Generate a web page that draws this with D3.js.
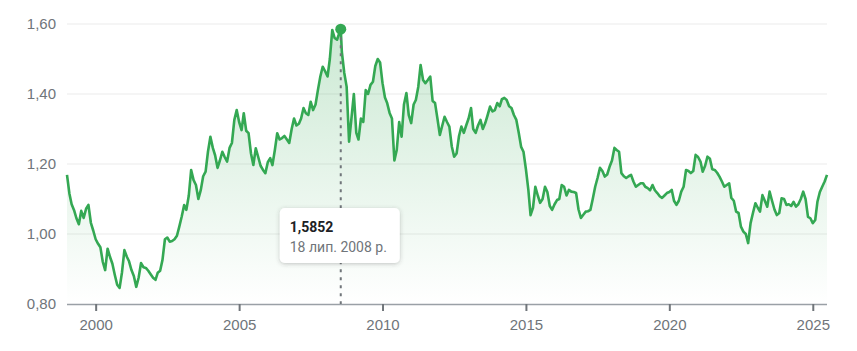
<!DOCTYPE html>
<html lang="uk">
<head>
<meta charset="utf-8">
<title>EUR / USD</title>
<script src="https://cdn.jsdelivr.net/npm/d3@7"></script>
<style>
  body { margin: 0; background: #fff; }
  svg { display: block; font-family: Roboto, "Noto Sans", Arial, sans-serif; }
  .axis text { fill: #70757a; font-size: 15px; }
</style>
</head>
<body>
<div id="chart"></div>
<script>
// monthly EUR/USD values, first of each month starting Jan 1999
var startMonth = "1999-01-01";
var rates = [
  1.169, 1.115, 1.085, 1.068, 1.045, 1.028, 1.066, 1.046, 1.072, 1.083, 1.032, 1.010, // 1999
  0.985, 0.972, 0.962, 0.920, 0.897, 0.958, 0.935, 0.915, 0.883, 0.855, 0.846, 0.890, // 2000
  0.954, 0.935, 0.922, 0.897, 0.880, 0.849, 0.875, 0.917, 0.905, 0.903, 0.895, 0.885, // 2001
  0.875, 0.869, 0.889, 0.895, 0.926, 0.985, 0.990, 0.978, 0.980, 0.985, 0.995, 1.021, // 2002
  1.050, 1.083, 1.069, 1.110, 1.183, 1.154, 1.140, 1.100, 1.126, 1.165, 1.178, 1.235, // 2003
  1.278, 1.246, 1.225, 1.189, 1.210, 1.235, 1.220, 1.207, 1.246, 1.260, 1.326, 1.354, // 2004
  1.320, 1.297, 1.345, 1.295, 1.288, 1.230, 1.197, 1.245, 1.220, 1.195, 1.183, 1.174, // 2005
  1.205, 1.217, 1.197, 1.240, 1.288, 1.270, 1.274, 1.280, 1.270, 1.260, 1.300, 1.330, // 2006
  1.310, 1.315, 1.330, 1.360, 1.345, 1.340, 1.378, 1.354, 1.370, 1.411, 1.450, 1.478, // 2007
  1.465, 1.450, 1.500, 1.583, 1.560, 1.555, 1.575, 1.520, 1.460, 1.421, 1.264, 1.330, // 2008
  1.400, 1.289, 1.270, 1.330, 1.320, 1.411, 1.400, 1.426, 1.435, 1.480, 1.500, 1.490, // 2009
  1.431, 1.390, 1.374, 1.346, 1.330, 1.210, 1.240, 1.320, 1.278, 1.370, 1.403, 1.340, // 2010
  1.317, 1.370, 1.383, 1.420, 1.483, 1.440, 1.431, 1.440, 1.450, 1.380, 1.374, 1.330, // 2011
  1.283, 1.310, 1.335, 1.320, 1.307, 1.250, 1.221, 1.230, 1.280, 1.307, 1.289, 1.310, // 2012
  1.330, 1.360, 1.300, 1.289, 1.310, 1.326, 1.300, 1.317, 1.340, 1.364, 1.350, 1.354, // 2013
  1.374, 1.365, 1.385, 1.389, 1.383, 1.365, 1.360, 1.340, 1.326, 1.290, 1.249, 1.235, // 2014
  1.185, 1.126, 1.054, 1.075, 1.135, 1.110, 1.089, 1.100, 1.135, 1.120, 1.080, 1.069, // 2015
  1.085, 1.097, 1.100, 1.140, 1.135, 1.110, 1.126, 1.121, 1.120, 1.117, 1.070, 1.046, // 2016
  1.055, 1.064, 1.065, 1.069, 1.100, 1.135, 1.160, 1.189, 1.180, 1.164, 1.170, 1.192, // 2017
  1.210, 1.246, 1.240, 1.235, 1.174, 1.165, 1.160, 1.165, 1.169, 1.150, 1.135, 1.140, // 2018
  1.145, 1.145, 1.135, 1.131, 1.125, 1.140, 1.125, 1.117, 1.108, 1.103, 1.110, 1.117, // 2019
  1.120, 1.126, 1.095, 1.083, 1.095, 1.121, 1.135, 1.183, 1.180, 1.174, 1.180, 1.226, // 2020
  1.220, 1.207, 1.178, 1.195, 1.221, 1.215, 1.185, 1.183, 1.175, 1.164, 1.150, 1.135, // 2021
  1.140, 1.145, 1.103, 1.095, 1.064, 1.060, 1.021, 1.007, 1.000, 0.974, 1.031, 1.060, // 2022
  1.088, 1.075, 1.064, 1.111, 1.095, 1.078, 1.121, 1.095, 1.070, 1.054, 1.060, 1.102, // 2023
  1.100, 1.083, 1.085, 1.080, 1.092, 1.078, 1.085, 1.100, 1.121, 1.100, 1.049, 1.045, // 2024
  1.031, 1.040, 1.092, 1.120, 1.135, 1.150, 1.169                                       // 2025
];

var peakDate = "2008-07-18";
var peakValue = 1.5852;
var peakLabel = "18 лип. 2008 р.";

var xTickYears = [2000, 2005, 2010, 2015, 2020, 2025];
var yTicks = [0.8, 1.0, 1.2, 1.4, 1.6];

var w = 857, h = 351;
var plotLeft = 67, plotRight = 827, plotTop = 24, plotBottom = 304;

var locale = d3.formatLocale({decimal: ",", thousands: " ", grouping: [3], currency: ["", ""]});
var fmt2 = locale.format(".2f");
var fmt4 = locale.format(".4f");

var start = new Date(startMonth + "T00:00:00");
var data = rates.map(function(v, i) {
  return {date: d3.timeMonth.offset(start, i), value: v};
});
var peak = {date: new Date(peakDate + "T00:00:00"), value: peakValue};
data.push(peak);
data.sort(function(a, b) { return a.date - b.date; });

var x = d3.scaleTime()
  .domain(d3.extent(data, function(d) { return d.date; }))
  .range([plotLeft, plotRight]);

var y = d3.scaleLinear()
  .domain([0.8, 1.6])
  .range([plotBottom, plotTop]);

var svg = d3.select("#chart").append("svg")
  .attr("width", w)
  .attr("height", h);

var defs = svg.append("defs");
var grad = defs.append("linearGradient")
  .attr("id", "fillGrad")
  .attr("gradientUnits", "userSpaceOnUse")
  .attr("x1", 0).attr("x2", 0)
  .attr("y1", plotTop).attr("y2", plotBottom);
grad.append("stop").attr("offset", 0).attr("stop-color", "#34a853").attr("stop-opacity", 0.26);
grad.append("stop").attr("offset", 1).attr("stop-color", "#34a853").attr("stop-opacity", 0);

var shadow = defs.append("filter").attr("id", "shadow")
  .attr("x", -0.2).attr("y", -0.3).attr("width", 1.4).attr("height", 1.6);
shadow.append("feDropShadow")
  .attr("dx", 0).attr("dy", 1).attr("stdDeviation", 2)
  .attr("flood-color", "#3c4043").attr("flood-opacity", 0.3);

// gridlines
svg.append("g")
  .selectAll("line")
  .data(yTicks.slice(1))
  .enter()
  .append("line")
  .attr("x1", plotLeft).attr("x2", plotRight)
  .attr("y1", function(d) { return y(d); })
  .attr("y2", function(d) { return y(d); })
  .attr("stroke", "#ebebeb")
  .attr("stroke-width", 1);

// y labels
var yAxis = d3.axisLeft(y)
  .tickValues(yTicks)
  .tickFormat(fmt2)
  .tickSize(0)
  .tickPadding(11);
svg.append("g")
  .attr("class", "axis")
  .attr("transform", "translate(" + plotLeft + ",0)")
  .call(yAxis)
  .call(function(g) { g.select(".domain").remove(); });

// area + line
var area = d3.area()
  .x(function(d) { return x(d.date); })
  .y0(plotBottom)
  .y1(function(d) { return y(d.value); });

var line = d3.line()
  .x(function(d) { return x(d.date); })
  .y(function(d) { return y(d.value); });

svg.append("path")
  .datum(data)
  .attr("d", area)
  .attr("fill", "url(#fillGrad)");

svg.append("path")
  .datum(data)
  .attr("d", line)
  .attr("fill", "none")
  .attr("stroke", "#34a853")
  .attr("stroke-width", 2.6)
  .attr("stroke-linejoin", "round");

// x axis
var xAxis = d3.axisBottom(x)
  .tickValues(xTickYears.map(function(yr) { return new Date(yr, 0, 1); }))
  .tickFormat(d3.timeFormat("%Y"))
  .tickSize(7)
  .tickPadding(8);
var gx = svg.append("g")
  .attr("class", "axis")
  .attr("transform", "translate(0," + plotBottom + ")")
  .call(xAxis);
gx.select(".domain")
  .attr("d", "M" + plotLeft + ",0.5H" + plotRight)
  .attr("stroke", "#9aa0a6")
  .attr("stroke-width", 1.5);
gx.selectAll(".tick line")
  .attr("stroke", "#70757a")
  .attr("stroke-width", 2);

// hover marker
var px = x(peak.date), py = y(peak.value);
svg.append("line")
  .attr("x1", px).attr("x2", px)
  .attr("y1", py).attr("y2", plotBottom)
  .attr("stroke", "#70757a")
  .attr("stroke-width", 2)
  .attr("stroke-dasharray", "3,5");

svg.append("circle")
  .attr("cx", px).attr("cy", py)
  .attr("r", 5.5)
  .attr("fill", "#34a853");

// tooltip
var tip = svg.append("g")
  .attr("transform", "translate(" + (px - 61) + ",208)");
tip.append("rect")
  .attr("width", 120).attr("height", 55)
  .attr("rx", 5)
  .attr("fill", "#fff")
  .attr("filter", "url(#shadow)");
tip.append("text")
  .attr("x", 10).attr("y", 24)
  .attr("font-size", "14px")
  .attr("font-weight", "bold")
  .attr("fill", "#202124")
  .text(fmt4(peak.value));
tip.append("text")
  .attr("x", 10).attr("y", 44)
  .attr("font-size", "14px")
  .attr("fill", "#70757a")
  .text(peakLabel);
</script>
</body>
</html>
